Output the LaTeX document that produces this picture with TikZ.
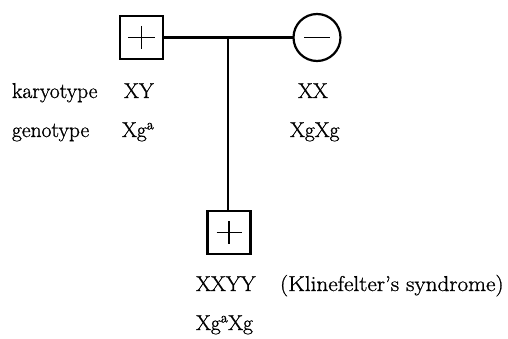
\documentclass[tikz,border=0pt]{standalone}
\usepackage{fontspec}
\newfontfamily\lblfont{Latin Modern Roman}[FakeBold=1.0,Ligatures=TeX]
\usetikzlibrary{calc}
\begin{document}
\begin{tikzpicture}[x=1pt,y=-1pt,
  malebox/.style={draw,line width=2.2pt,minimum size=43pt,inner sep=0pt,outer sep=0pt},
  femcirc/.style={draw,circle,line width=2.2pt,minimum size=47pt,inner sep=0pt,outer sep=0pt},
  link/.style={line width=2.5pt},
  sign/.style={line width=1.6pt},
  lbl/.style={anchor=base west,inner sep=0pt,outer sep=0pt,font=\lblfont\fontsize{21.5}{25}\selectfont}]
\useasboundingbox (0,0) rectangle (508,339);
% parents
\node[malebox] (f) at (141.5,37.5) {};
\node[femcirc] (m) at (317,37.5) {};
\coordinate (j) at (228,37.5);
\draw[link] (f.east) -- (m.west);
% child
\node[malebox] (c) at (229,232.5) {};
\draw[link] (j) -- (j |- c.north);
% signs
\draw[sign] ($(f.center)+(-13.5,0)$) -- ($(f.center)+(13.5,0)$);
\draw[sign] ($(f.center)+(0,-11.5)$) -- ($(f.center)+(0,11.5)$);
\draw[sign] ($(m.center)+(-13,0)$) -- ($(m.center)+(13,0)$);
\draw[sign] ($(c.center)+(-12.5,0)$) -- ($(c.center)+(12.5,0)$);
\draw[sign] ($(c.center)+(0,-11.5)$) -- ($(c.center)+(0,11.5)$);
% labels
\node[lbl] (kl) at (12,98) {karyotype};
\node[lbl] (gl) at (12,137) {genotype};
\node[lbl] (fk) at (124,98) {XY};
\node[lbl] (fg) at (122,137) {Xg\textsuperscript{a}};
\node[lbl] (mk) at (298,98) {XX};
\node[lbl] (mg) at (290,137) {XgXg};
\node[lbl] (ck) at (196,291) {XXYY};
\node[lbl] (cn) at (280,291) {\scalebox{1.077}[1]{(Klinefelter’s syndrome)}};
\node[lbl] (cg) at (196,330) {Xg\textsuperscript{a}Xg};
\end{tikzpicture}
\end{document}
